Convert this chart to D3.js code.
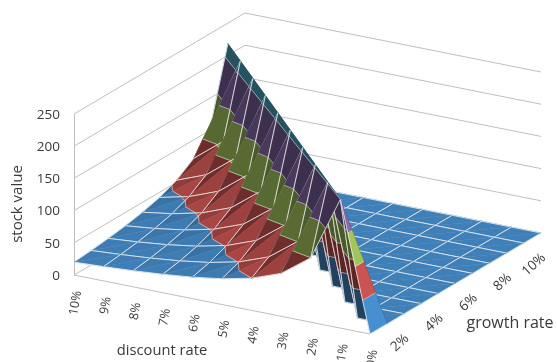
<!DOCTYPE html>
<html><head><meta charset="utf-8">
<script src="https://cdn.jsdelivr.net/npm/d3@7"></script>
<style>html,body{margin:0;padding:0;background:#fff;overflow:hidden}svg{display:block;filter:blur(0.35px)}text{font-family:"Open Sans",sans-serif;fill:#3a3a3a}</style>
</head><body><svg id="c" width="557" height="362"></svg>
<script>
// categories: discount rate, left to right on the front axis
const discountLabels = ["10%","9%","8%","7%","6%","5%","4%","3%","2%","1%","0%"];
const discountRates = [10,9,8,7,6,5,4,3,2,1,0];
const growthRates = [0,1,2,3,4,5,6,7,8,9,10];
const growthLabels = ["2%","4%","6%","8%","10%"];
const growthLabelRates = [2,4,6,8,10];
const valueTicks = [0,50,100,150,200,250];
// stock value, one series per growth rate, in discountRates order
const growth0  = [20,22.2,25,28.6,33.3,40,50,66.7,100,200,0];
const growth1  = [22.4,25.3,28.9,33.7,40.4,50.5,67.3,101,202,0,0];
const growth2  = [25.5,29.1,34,40.8,51,68,102,204,0,0,0];
const growth3  = [29.4,34.3,41.2,51.5,68.7,103,206,0,0,0,0];
const growth4  = [34.7,41.6,52,69.3,104,208,0,0,0,0,0];
const growth5  = [42,52.5,70,105,210,0,0,0,0,0,0];
const growth6  = [53,70.7,106,212,0,0,0,0,0,0,0];
const growth7  = [71.3,107,214,0,0,0,0,0,0,0,0];
const growth8  = [108,216,0,0,0,0,0,0,0,0,0];
const growth9  = [218,0,0,0,0,0,0,0,0,0,0];
const growth10 = [0,0,0,0,0,0,0,0,0,0,0];
const surface = [growth0,growth1,growth2,growth3,growth4,growth5,growth6,growth7,growth8,growth9,growth10];
const bandColors = ["#4488C4","#C0504D","#9BBB59","#8064A2","#4BACC6"];

const svg = d3.select("#c");
// affine projection built from three linear scales
const dx = d3.scaleLinear().domain([10,0]).range([74,370]);
const dy = d3.scaleLinear().domain([10,0]).range([275,334]);
const gx = d3.scaleLinear().domain([0,10]).range([0,171]);
const gy = d3.scaleLinear().domain([0,10]).range([0,-101]);
const zy = d3.scaleLinear().domain([0,250]).range([0,-161]);
const project = (d,g,v) => [dx(d)+gx(g), dy(d)+gy(g)+zy(v)];
const gridColor = "#bfbfbf";

// walls
const grid = svg.append("g").attr("fill","none").attr("stroke",gridColor).attr("stroke-width",1);
valueTicks.forEach(v=>{
  grid.append("path").attr("d",d3.line()([project(10,0,v),project(10,10,v),project(0,10,v)]));
});
grid.append("path").attr("d",d3.line()([project(10,0,0),project(0,0,0)]));

// value axis
const axisV = d3.axisLeft(d3.scaleLinear().domain([0,250]).range([275,114]))
  .tickValues(valueTicks).tickSize(0).tickPadding(14);
const ga = svg.append("g").attr("transform","translate(74,0)").call(axisV);
ga.select(".domain").attr("stroke",gridColor);
ga.selectAll("text").style("font-size","13.5px").attr("fill","#3a3a3a");

// two-sided lighting in box coordinates
const L = [-0.58,-0.25,0.46];
function shade(col,a,b,c){
  const P = p=>[p.d, p.g*0.8, p.v/45];
  const A=P(a),B=P(b),C=P(c);
  const u=[B[0]-A[0],B[1]-A[1],B[2]-A[2]], w=[C[0]-A[0],C[1]-A[1],C[2]-A[2]];
  let n=[u[1]*w[2]-u[2]*w[1],u[2]*w[0]-u[0]*w[2],u[0]*w[1]-u[1]*w[0]];
  const m=Math.hypot(...n)||1; n=n.map(x=>x/m); if(n[2]<0) n=n.map(x=>-x);
  // seen from below: the lit side faces away from the viewer
  const pa=project(a.d,a.g,a.v),pb=project(b.d,b.g,b.v),pc=project(c.d,c.g,c.v);
  const fa=project(a.d,a.g,0),fb=project(b.d,b.g,0),fc=project(c.d,c.g,0);
  const s1=(pb[0]-pa[0])*(pc[1]-pa[1])-(pb[1]-pa[1])*(pc[0]-pa[0]);
  const s2=(fb[0]-fa[0])*(fc[1]-fa[1])-(fb[1]-fa[1])*(fc[0]-fa[0]);
  const under=s1*s2<0;
  let dot=under?0:Math.max(0,n[0]*L[0]+n[1]*L[1]+n[2]*L[2]);
  // steep faces turned away from the light stay dim
  if(n[0]>0) dot*=Math.pow(Math.min(1,n[2]/0.6),1.5);
  const f=Math.min(1.05,0.48+dot);
  const q=d3.rgb(col);
  return d3.rgb(q.r*f,q.g*f,q.b*f).formatHex();
}
function clip(poly,level,keepAbove){
  const out=[];
  for(let i=0;i<poly.length;i++){
    const p=poly[i],q=poly[(i+1)%poly.length];
    const pin=keepAbove?p.v>=level:p.v<=level, qin=keepAbove?q.v>=level:q.v<=level;
    if(pin) out.push(p);
    if(pin!==qin){
      const t=(level-p.v)/(q.v-p.v);
      out.push({d:p.d+(q.d-p.d)*t,g:p.g+(q.g-p.g)*t,v:level});
    }
  }
  return out;
}
const mesh = svg.append("g");
const pt=(d,g)=>({d,g,v:surface[g][discountRates.indexOf(d)]});
function tri(a,b,c,edges){
  const contours=[];
  for(let k=0;k<bandColors.length;k++){
    let poly=clip([a,b,c],valueTicks[k],true);
    if(poly.length) poly=clip(poly,valueTicks[k+1],false);
    if(poly.length<3) continue;
    const color=shade(bandColors[k],a,b,c);
    mesh.append("path").attr("d",d3.line()(poly.map(p=>project(p.d,p.g,p.v)))+"Z")
      .attr("fill",color).attr("stroke",color).attr("stroke-width",0.5);
    if(k>0) poly.forEach((p,i)=>{
      const q=poly[(i+1)%poly.length];
      if(p.v===valueTicks[k]&&q.v===valueTicks[k]) contours.push([p,q]);
    });
  }
  contours.forEach(e=>{
    mesh.append("path").attr("d",d3.line()(e.map(p=>project(p.d,p.g,p.v))))
      .attr("fill","none").attr("stroke","#ffffff").attr("stroke-opacity",0.55).attr("stroke-width",0.9);
  });
  edges.forEach(e=>{
    mesh.append("path").attr("d",d3.line()(e.map(p=>project(p.d,p.g,p.v))))
      .attr("fill","none").attr("stroke","#ffffff").attr("stroke-opacity",0.72).attr("stroke-width",1);
  });
}
for(let g=9;g>=0;g--){
  for(let d=9;d>=0;d--){
    const a=pt(d+1,g),b=pt(d,g),c=pt(d,g+1),e=pt(d+1,g+1);
    if(a.v+c.v>=b.v+e.v){
      tri(a,c,e,[[a,e],[c,e]]);
      tri(a,b,c,[[a,b],[b,c]]);
    } else {
      // crest along the other diagonal: the far face first
      tri(b,c,e,[[b,c],[c,e]]);
      tri(a,b,e,[[a,b],[a,e]]);
    }
  }
}

// category labels
const lab = svg.append("g");
discountLabels.forEach((t,i)=>{
  const [x,y]=project(discountRates[i],0,0);
  lab.append("text").attr("text-anchor","end").attr("dominant-baseline","middle")
    .attr("transform",`translate(${x+4},${y+16}) rotate(-80)`).style("font-size","12.5px").text(t);
});
growthLabels.forEach((t,i)=>{
  const [x,y]=project(0,growthLabelRates[i],0);
  lab.append("text").attr("text-anchor","end").attr("dominant-baseline","middle")
    .attr("transform",`translate(${x+3},${y+23}) rotate(-42)`).style("font-size","13.5px").text(t);
});
const titles=svg.append("g");
titles.append("text").attr("text-anchor","middle").style("font-size","15px").attr("transform","translate(22,204) rotate(-90)").text("stock value");
titles.append("text").attr("text-anchor","middle").style("font-size","14.7px").attr("x",162).attr("y",355).text("discount rate");
titles.append("text").attr("text-anchor","middle").style("font-size","16px").attr("x",510).attr("y",328).text("growth rate");
</script></body></html>
